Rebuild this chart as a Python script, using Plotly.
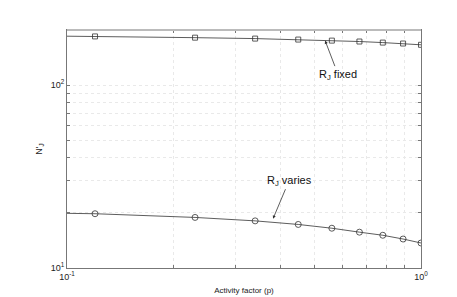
import numpy as np
import plotly.graph_objects as go

# data
p_line = [0.1, 0.12, 0.23, 0.34, 0.45, 0.56, 0.67, 0.78, 0.89, 1.0]
p_mark = [0.12, 0.23, 0.34, 0.45, 0.56, 0.67, 0.78, 0.89, 1.0]
n_fixed_line = [185, 184.5, 181.6, 179.5, 177.3, 175.0, 173.0, 170.7, 168.7, 166.0]
n_fixed = [184.5, 181.6, 179.5, 177.3, 175.0, 173.0, 170.7, 168.7, 166.0]
n_varies_line = [19.9, 19.8, 18.9, 18.1, 17.3, 16.5, 15.7, 15.1, 14.4, 13.7]
n_varies = [19.8, 18.9, 18.1, 17.3, 16.5, 15.7, 15.1, 14.4, 13.7]

x_major = [0.1, 1.0]
x_labels = ["10<sup>-1</sup>", "10<sup>0</sup>"]
x_minor = [0.2, 0.3, 0.4, 0.5, 0.6, 0.7, 0.8, 0.9]
y_major = [10, 100]
y_labels = ["10<sup>1</sup>", "10<sup>2</sup>"]
y_minor = [20, 30, 40, 50, 60, 70, 80, 90, 200]

lc = "#333333"
fig = go.Figure()
fig.add_trace(go.Scatter(x=p_line, y=n_fixed_line, mode="lines",
                         line=dict(color=lc, width=0.8), showlegend=False))
fig.add_trace(go.Scatter(x=p_mark, y=n_fixed, mode="markers",
                         marker=dict(symbol="square-open", size=5, color=lc, line=dict(width=0.8)),
                         showlegend=False))
fig.add_trace(go.Scatter(x=p_line, y=n_varies_line, mode="lines",
                         line=dict(color=lc, width=0.8), showlegend=False))
fig.add_trace(go.Scatter(x=p_mark, y=n_varies, mode="markers",
                         marker=dict(symbol="circle-open", size=6, color=lc, line=dict(width=0.8)),
                         showlegend=False))

axis_common = dict(
    showline=True, linecolor="#777777", linewidth=1, mirror="ticks",
    ticks="inside", ticklen=3, tickcolor="#777777",
    showgrid=True, gridcolor="#e9e9e9", griddash="dot", gridwidth=1,
    zeroline=False, tickfont=dict(family="Liberation Sans", size=9, color="#222222"),
)

fig.update_xaxes(type="log", range=[-1, 0], tickmode="array", tickvals=x_major, ticktext=x_labels,
                 minor=dict(tickmode="array", tickvals=x_minor, ticks="inside", ticklen=3,
                            tickcolor="#777777", showgrid=True, gridcolor="#e9e9e9", griddash="dot"),
                 title=dict(text="Activity factor (p)", font=dict(family="Liberation Sans", size=8, color="#222222"),
                            standoff=6),
                 **axis_common)
fig.update_yaxes(type="log", range=[1, np.log10(200)], tickmode="array", tickvals=y_major, ticktext=y_labels,
                 minor=dict(tickmode="array", tickvals=y_minor, ticks="inside", ticklen=3,
                            tickcolor="#777777", showgrid=True, gridcolor="#e9e9e9", griddash="dot"),
                 title=dict(text="N'<sub>J</sub>", font=dict(family="Liberation Sans", size=9, color="#222222"),
                            standoff=6),
                 **axis_common)

# light solid major grid line at 10^2 and light top border
fig.add_shape(type="line", xref="paper", yref="y", x0=0, x1=1, y0=2, y1=2,
              line=dict(color="#eeeeee", width=1.5), layer="below")
fig.add_shape(type="line", xref="paper", yref="paper", x0=0, x1=1, y0=1, y1=1,
              line=dict(color="#bbbbbb", width=2), layer="above")

ann_font = dict(family="Liberation Sans", size=11, color="#111111")
fig.add_annotation(x=np.log10(0.536), y=np.log10(175), xref="x", yref="y",
                   text="R<sub>J</sub> fixed", showarrow=True, ax=13, ay=34,
                   arrowhead=2, arrowsize=0.8, arrowwidth=0.8, arrowcolor="#333333", font=ann_font)
fig.add_annotation(x=np.log10(0.382), y=np.log10(18.6), xref="x", yref="y",
                   text="R<sub>J</sub> varies", showarrow=True, ax=16, ay=-38,
                   arrowhead=2, arrowsize=0.8, arrowwidth=0.8, arrowcolor="#333333", font=ann_font)

fig.update_layout(width=457, height=297, margin=dict(l=59, r=44, t=22, b=34),
                  plot_bgcolor="white", paper_bgcolor="white")
fig.write_html("out.html")
